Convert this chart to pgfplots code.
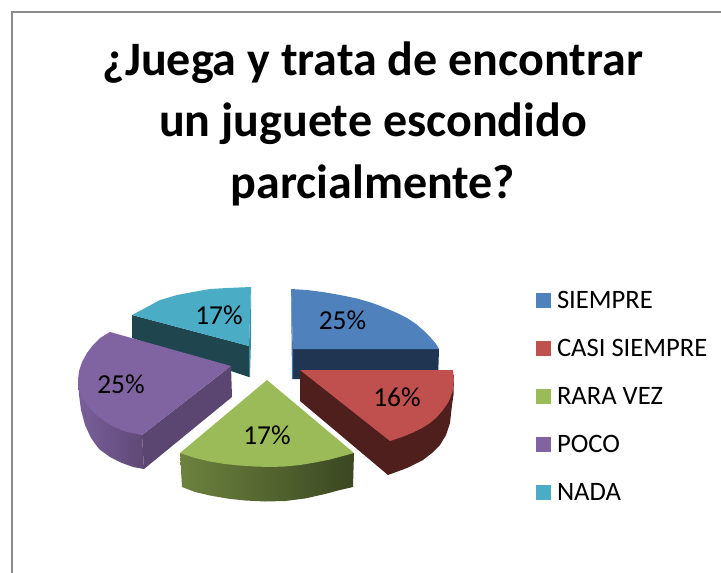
\documentclass[border=0pt]{standalone}
\usepackage{fontspec}
\setmainfont{Carlito}
\usepackage{pgfplots}
\pgfplotsset{compat=1.18}
\definecolor{cblue}{HTML}{4F81BD}
\definecolor{cred}{HTML}{C0504D}
\definecolor{cgreen}{HTML}{9BBB59}
\definecolor{cpurple}{HTML}{8064A2}
\definecolor{cteal}{HTML}{4BACC6}
\definecolor{dblue}{HTML}{1F3552}
\definecolor{dred}{HTML}{4F1F1E}
\definecolor{dpurple}{HTML}{5A4671}
\definecolor{dteal}{HTML}{1F454F}
\begin{document}
\begin{tikzpicture}
\useasboundingbox (0,0) rectangle (721bp,573bp);
\begin{axis}[
  at={(0,0)}, anchor=south west,
  scale only axis, width=721bp, height=573bp,
  xmin=0, xmax=721, ymin=0, ymax=573, y dir=reverse,
  hide axis,
  legend cell align=left,
  legend style={at={(axis cs:536,291)}, anchor=north west, draw=none, fill=none,
    inner sep=0pt, outer sep=0pt, row sep=15bp,
    font=\fontsize{26.7}{26.7}\selectfont,
    nodes={inner sep=0pt, outer sep=0pt, text height=17bp, text depth=16bp},
    /tikz/column 2/.style={column sep=0pt}},
  legend image code/.code={\path[#1] (0bp,0bp) rectangle (15bp,15bp);},
]
% frame
\addplot[forget plot, draw=black!45, line width=2bp] coordinates {(11.5,573) (11.5,12) (721,12)};
% side faces, back to front
\addplot[forget plot, draw=none, fill=dteal] coordinates {(132,315) (249,346) (249,377) (132,338)} --cycle;
\addplot[forget plot, draw=none, fill=cteal!80!black] coordinates {(249,346) (251,287) (251,340) (250,377) (249,377)} --cycle;
\addplot[forget plot, draw=none, fill=dblue] coordinates {(293,349) (439,349) (438,380) (293,379)} --cycle;
\addplot[forget plot, draw=none, fill=cblue!90!black] coordinates {(291,289) (293,349) (293,379) (292,379)} --cycle;
\addplot[forget plot, draw=none, left color=cpurple!95!black, right color=dpurple!90!cpurple] coordinates {(78,377) (79,395) (81,410) (85,425) (91,438) (99,449) (110,457) (122,463) (133,467) (144,469) (142,435) (100,400)} --cycle;
\addplot[forget plot, draw=none, fill=dpurple] coordinates {(142,435) (231,366) (232,397) (144,469)} --cycle;
\addplot[forget plot, draw=none, left color=cgreen!70!black, right color=cgreen!38!black] coordinates {(180,453) (182,487) (195,492) (210,495.5) (227,498.5) (245,500.5) (265,501.5) (285,501) (305,498.5) (325,494) (340,490) (353,487) (354,453)} --cycle;
\addplot[forget plot, draw=none, fill=dred] coordinates {(300,370) (454,375) (453.5,395) (452,405) (450,423) (446,435) (440,445) (432,453) (423,460) (407,468) (388,475) (300,401)} --cycle;
% top faces
\addplot[draw=none, fill=cblue] coordinates {(291,289) (307,290) (323,292) (340,295) (357,298.5) (371,302.5) (383,307) (396,312.5) (407,318) (416,324) (423,330) (431,338) (436,344) (439,349) (293,349)} --cycle;
\addlegendentry{\hspace{6bp}SIEMPRE}
\addplot[draw=none, fill=cred] coordinates {(300,370) (453,370) (454,380) (452.5,392) (448.5,402) (443,410) (437,417) (430,423) (422,428) (413,432.5) (402,437) (390,441)} --cycle;
\addlegendentry{\hspace{6bp}CASI SIEMPRE}
\addplot[draw=none, fill=cgreen] coordinates {(267,380) (354,453) (343,456) (330,459.5) (315,462.5) (300,465) (285,466.5) (270,467) (255,466.5) (240,465.5) (225,464) (210,461.5) (195,458) (180,453)} --cycle;
\addlegendentry{\hspace{6bp}RARA VEZ}
\addplot[draw=none, fill=cpurple] coordinates {(110,332) (231,366) (142,435) (127,432) (114,427) (103,420) (94,413) (87,405) (82,397) (79,389) (78,380) (79,371) (82,362) (87,353) (93,345) (100,338)} --cycle;
\addlegendentry{\hspace{6bp}POCO}
\addplot[draw=none, fill=cteal] coordinates {(251,287) (249,346) (132,315) (147,307) (160,300) (177,295) (193,292) (210,289) (227,288)} --cycle;
\addlegendentry{\hspace{6bp}NADA}
% labels
\node[font=\fontsize{27.5}{27.5}\selectfont] at (axis cs:342.5,320) {25\%};
\node[font=\fontsize{27.5}{27.5}\selectfont] at (axis cs:397,397) {16\%};
\node[font=\fontsize{27.5}{27.5}\selectfont] at (axis cs:267,435) {17\%};
\node[font=\fontsize{27.5}{27.5}\selectfont] at (axis cs:121,384) {25\%};
\node[font=\fontsize{27.5}{27.5}\selectfont] at (axis cs:219,315) {17\%};
\node[font=\bfseries\fontsize{48.2}{62}\selectfont, align=center, anchor=north] at (axis cs:373,38) {¿Juega y trata de encontrar\\un juguete escondido\\parcialmente?};
\end{axis}
\end{tikzpicture}
\end{document}
